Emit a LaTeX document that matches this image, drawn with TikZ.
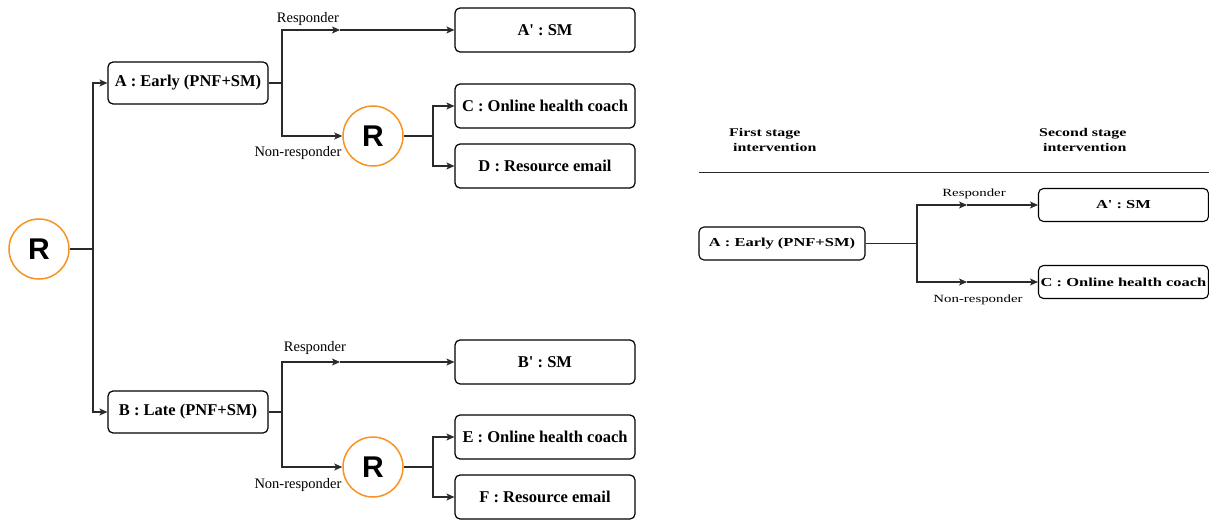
\documentclass[tikz,border=0pt]{standalone}
\usepackage{fontspec}
\setmainfont{Liberation Serif}
\newfontfamily\wideserif[FakeStretch=1.35]{Liberation Serif}
\newfontfamily\rfont{Liberation Sans}
\usetikzlibrary{arrows.meta}
\definecolor{rorange}{HTML}{F7931E}
\definecolor{linegray}{HTML}{2A2A2A}
\begin{document}
\begin{tikzpicture}[x=1pt,y=-1pt,
  box/.style={draw=black,line width=1.2pt,rounded corners=5pt,inner sep=0pt,
    minimum width=180pt,minimum height=44pt,font=\fontsize{16.5}{18}\selectfont\bfseries},
  rbox/.style={draw=black,line width=1.1pt,rounded corners=5pt,inner sep=0pt,
    minimum width=170pt,minimum height=33pt,font=\wideserif\fontsize{12.2}{14}\selectfont\bfseries},
  rcirc/.style={draw=rorange,line width=1.5pt,circle,minimum size=60pt,inner sep=0pt,
    font=\rfont\fontsize{30}{30}\selectfont\bfseries},
  conn/.style={draw=linegray,line width=1.1pt},
  arr/.style={conn,-{Stealth[length=8pt,width=7pt,inset=2pt]}},
  lbl/.style={inner sep=0pt,font=\fontsize{14.5}{16}\selectfont},
  rlbl/.style={inner sep=0pt,font=\wideserif\fontsize{11}{13}\selectfont},
  head/.style={inner sep=0pt,align=left,anchor=west,font=\wideserif\fontsize{11.8}{15}\selectfont\bfseries}
]
\useasboundingbox (0,0) rectangle (1209,521);

% ---------- left panel ----------
\node[rcirc] (R0) at (39,249) {R};
\node[box,minimum width=160pt,minimum height=42pt] (A) at (188,83) {A : Early (PNF+SM)};
\node[box,minimum width=160pt,minimum height=42pt] (B) at (188,412) {B : Late (PNF+SM)};

\node[box] (Ap) at (545,30) {A\textquotesingle{} : SM};
\node[rcirc] (R1) at (373,136) {R};
\node[box] (C) at (545,106) {C : Online health coach};
\node[box] (D) at (545,166) {D : Resource email};

\node[box] (Bp) at (545,362) {B\textquotesingle{} : SM};
\node[rcirc] (R2) at (373,467) {R};
\node[box] (E) at (545,437) {E : Online health coach};
\node[box] (F) at (545,497) {F : Resource email};

\coordinate (t0) at (93,249);
\coordinate (sA) at (282,83);
\coordinate (mA) at (340,30);
\coordinate (s1) at (433,136);
\coordinate (sB) at (282,412);
\coordinate (mB) at (340,362);
\coordinate (s2) at (433,467);

\draw[conn] (R0.east) -- (t0);
\draw[arr] (t0) |- (A.west);
\draw[arr] (t0) |- (B.west);

\draw[conn] (A.east) -- (sA);
\draw[arr] (sA) |- (mA);
\draw[arr] (mA) -- (Ap.west);
\draw[arr] (sA) |- (R1.west);
\draw[conn] (R1.east) -- (s1);
\draw[arr] (s1) |- (C.west);
\draw[arr] (s1) |- (D.west);

\draw[conn] (B.east) -- (sB);
\draw[arr] (sB) |- (mB);
\draw[arr] (mB) -- (Bp.west);
\draw[arr] (sB) |- (R2.west);
\draw[conn] (R2.east) -- (s2);
\draw[arr] (s2) |- (E.west);
\draw[arr] (s2) |- (F.west);

\node[lbl] (lrA) at (308,19) {Responder};
\node[lbl] (lnA) at (298,153) {Non-responder};
\node[lbl] (lrB) at (315,348) {Responder};
\node[lbl] (lnB) at (298,485) {Non-responder};

% ---------- right panel ----------
\node[head] (h1) at (729,140) {First stage\\\ intervention};
\node[head] (h2) at (1039,140) {Second stage\\\ intervention};
\coordinate (hl0) at (699,173);
\coordinate (hl1) at (1209,173);
\draw[draw=linegray,line width=1pt] (hl0) -- (hl1);

\node[rbox,minimum width=166pt] (rA) at (782,243.5) {A : Early (PNF+SM)};
\node[rbox] (rAp) at (1123.5,205) {A' : SM};
\node[rbox] (rC) at (1123.5,282) {C : Online health coach};

\coordinate (sR) at (917,243.5);
\coordinate (mR1) at (967,205);
\coordinate (mR2) at (967,282);
\draw[conn] (rA.east) -- (sR);
\draw[arr] (sR) |- (mR1);
\draw[arr] (mR1) -- (rAp.west);
\draw[arr] (sR) |- (mR2);
\draw[arr] (mR2) -- (rC.west);

\node[rlbl] (rl1) at (974,194) {Responder};
\node[rlbl] (rl2) at (978,300) {Non-responder};
\end{tikzpicture}
\end{document}
